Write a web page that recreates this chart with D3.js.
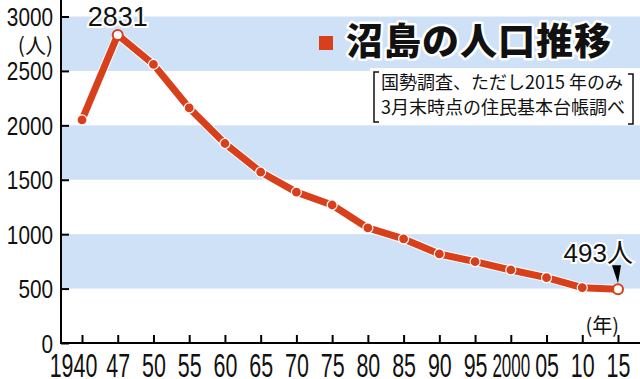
<!DOCTYPE html>
<html>
<head>
<meta charset="utf-8">
<script src="https://cdn.jsdelivr.net/npm/d3@7"></script>
<style>
  body { margin: 0; background: #fff; }
  svg { display: block; }
</style>
</head>
<body>
<div id="chart"></div>
<script>
// data
const years = ["1940", "47", "50", "55", "60", "65", "70", "75", "80", "85", "90", "95", "2000", "05", "10", "15"];
const population = [2050, 2831, 2560, 2160, 1833, 1571, 1386, 1268, 1057, 956, 818, 747, 671, 600, 508, 493];
const hollowYears = ["47", "15"];
const yTicks = [0, 500, 1000, 1500, 2000, 2500, 3000];
const bands = [[500, 1000], [1500, 2000], [2500, 3000]];
const titleText = "沼島の人口推移";
const noteLines = ["国勢調査、ただし2015 年のみ", "3月末時点の住民基本台帳調べ"];

const width = 640,
  height = 379;

const red = "#d8401b",
  blue = "#cfe1f7";

const x = d3.scalePoint()
  .domain(years)
  .range([82, 618]);

const y = d3.scaleLinear()
  .domain([0, 3000])
  .range([343, 16.5]);

const axisX = 61;

const svg = d3.select("#chart")
  .append("svg")
  .attr("width", width)
  .attr("height", height)
  .attr("viewBox", [0, 0, width, height]);

// blue bands
svg.append("g")
  .selectAll("rect")
  .data(bands)
  .join("rect")
  .attr("x", axisX + 1)
  .attr("width", width - axisX - 1)
  .attr("y", d => y(d[1]))
  .attr("height", d => y(d[0]) - y(d[1]))
  .attr("fill", blue);

// y axis, ticks point inward
const gy = svg.append("g")
  .attr("transform", `translate(${axisX},0)`)
  .call(d3.axisRight(y).tickValues(yTicks).tickFormat(d3.format("d")).tickSize(8).tickSizeOuter(0));
gy.select(".domain").remove();
gy.selectAll(".tick line").attr("stroke", "#000").attr("stroke-width", 2);
gy.selectAll(".tick text")
  .attr("x", 0)
  .attr("dy", "0.36em")
  .attr("text-anchor", "end")
  .attr("transform", "translate(-8,0) scale(0.83,1)")
  .attr("font-family", "'Liberation Sans', Arial, sans-serif")
  .attr("font-size", 25)
  .attr("fill", "#111");
svg.append("line")
  .attr("x1", axisX).attr("x2", axisX)
  .attr("y1", 0).attr("y2", y(0) + 1)
  .attr("stroke", "#000").attr("stroke-width", 2);

// x axis, ticks point up
const gx = svg.append("g")
  .attr("transform", `translate(0,${y(0)})`)
  .call(d3.axisBottom(x).tickSize(-8).tickSizeOuter(0));
gx.select(".domain").remove();
gx.selectAll(".tick line").attr("stroke", "#000").attr("stroke-width", 2);
gx.selectAll(".tick text")
  .attr("y", 34)
  .attr("dy", 0)
  .attr("x", 0)
  .attr("text-anchor", "middle")
  .attr("transform", d => d == "1940" ? "translate(-9,0) scale(0.63,1)" : d == "2000" ? "scale(0.5,1)" : "scale(0.63,1)")
  .attr("font-family", "'Liberation Sans', Arial, sans-serif")
  .attr("font-size", 34)
  .attr("fill", "#111");
svg.append("line")
  .attr("x1", axisX - 1).attr("x2", width)
  .attr("y1", y(0)).attr("y2", y(0))
  .attr("stroke", "#000").attr("stroke-width", 2);

// unit labels
svg.append("text")
  .attr("x", 53).attr("y", 53)
  .attr("text-anchor", "end")
  .attr("font-family", "'Noto Sans CJK JP', sans-serif")
  .attr("font-size", 21)
  .attr("fill", "#111")
  .text("(人)");

svg.append("text")
  .attr("x", 619).attr("y", 333)
  .attr("text-anchor", "end")
  .attr("font-family", "'Noto Sans CJK JP', sans-serif")
  .attr("font-size", 20)
  .attr("fill", "#111")
  .text("(年)");

// population line
const data = years.map((d, i) => ({year: d, pop: population[i]}));
const line = d3.line()
  .x(d => x(d.year))
  .y(d => y(d.pop));

svg.append("path")
  .datum(data)
  .attr("d", line)
  .attr("fill", "none")
  .attr("stroke", "#fff")
  .attr("stroke-width", 9)
  .attr("stroke-linejoin", "round");

svg.append("path")
  .datum(data)
  .attr("d", line)
  .attr("fill", "none")
  .attr("stroke", red)
  .attr("stroke-width", 7)
  .attr("stroke-linejoin", "round");

svg.append("g")
  .selectAll("circle")
  .data(data)
  .join("circle")
  .attr("cx", d => x(d.year))
  .attr("cy", d => y(d.pop))
  .attr("r", 5)
  .attr("fill", d => hollowYears.includes(d.year) ? "#fff" : red)
  .attr("stroke", d => hollowYears.includes(d.year) ? red : "#fff")
  .attr("stroke-width", d => hollowYears.includes(d.year) ? 2 : 1.2);

// peak label
const peak = data[1];
svg.append("text")
  .attr("x", x(peak.year))
  .attr("y", y(peak.pop) - 9)
  .attr("text-anchor", "middle")
  .attr("font-family", "'Liberation Sans', Arial, sans-serif")
  .attr("font-size", 27)
  .attr("fill", "#111")
  .attr("stroke", "#fff")
  .attr("stroke-width", 4)
  .attr("paint-order", "stroke")
  .text(peak.pop);

// latest label with pointer
const last = data[data.length - 1];
const lx = x(last.year), ly = y(last.pop);
svg.append("text")
  .attr("x", lx + 15)
  .attr("y", ly - 27)
  .attr("text-anchor", "end")
  .attr("font-family", "'Liberation Sans', 'Noto Sans CJK JP', sans-serif")
  .attr("font-size", 26)
  .attr("fill", "#111")
  .attr("stroke", "#fff")
  .attr("stroke-width", 4)
  .attr("paint-order", "stroke")
  .text(last.pop + "人");

const ptr = d3.path();
ptr.moveTo(lx - 6, ly - 24);
ptr.lineTo(lx + 3, ly - 24);
ptr.lineTo(lx, ly - 6);
ptr.closePath();
svg.append("path").attr("d", ptr.toString()).attr("fill", "#000");

// title
svg.append("rect")
  .attr("x", 319).attr("y", 36)
  .attr("width", 14).attr("height", 14)
  .attr("fill", red);

svg.append("text")
  .attr("x", 346).attr("y", 55)
  .attr("font-family", "'Noto Sans CJK JP', sans-serif")
  .attr("font-weight", 900)
  .attr("font-size", 37)
  .attr("letter-spacing", 1)
  .attr("fill", "#111")
  .attr("stroke", "#fff")
  .attr("stroke-width", 5)
  .attr("stroke-linejoin", "round")
  .attr("paint-order", "stroke")
  .text(titleText);

// source note in brackets
svg.append("rect")
  .attr("x", 370).attr("y", 68)
  .attr("width", width - 370).attr("height", 57)
  .attr("fill", "#fff");

svg.append("path")
  .attr("d", "M379,72 H374 V122 H379 M628,74 H633 V124 H628")
  .attr("fill", "none")
  .attr("stroke", "#111")
  .attr("stroke-width", 1.5);

svg.append("g")
  .selectAll("text")
  .data(noteLines)
  .join("text")
  .attr("x", 381)
  .attr("y", (d, i) => 89 + i * 25)
  .attr("font-family", "'Noto Sans CJK JP', sans-serif")
  .attr("font-size", 18)
  .attr("fill", "#111")
  .text(d => d);
</script>
</body>
</html>
